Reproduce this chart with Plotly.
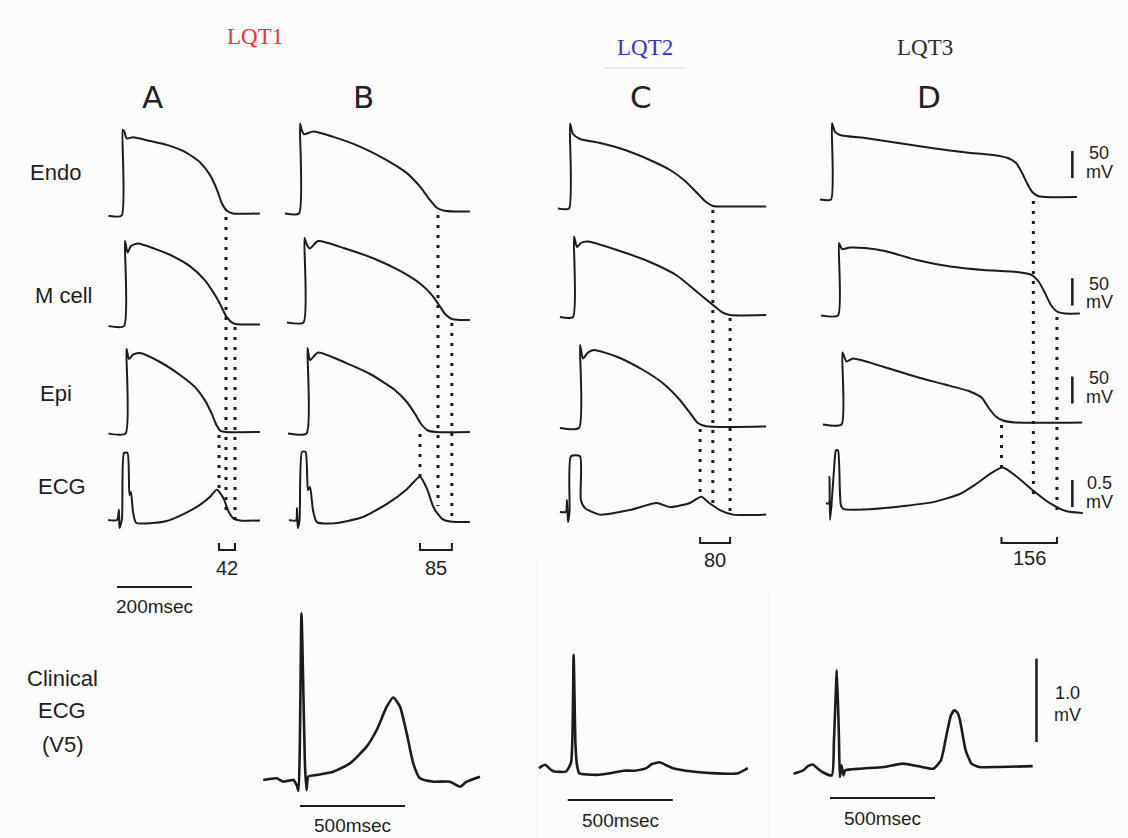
import plotly.graph_objects as go

# ------------------------------------------------------------------
# DATA  (time in ms from endocardial upstroke of each column, potentials in mV,
#        ECG in mV; clinical ECG time from R peak)
# ------------------------------------------------------------------
ENDO_A_T = [-38, -3, 0, 3.5, 10.7, 28, 73, 118, 166, 206, 233, 252, 265, 278, 294, 366]
ENDO_A_V = [-89, -89, 70, 68, 54, 56, 49, 42, 29, 10, -14, -42, -67, -80, -85, -85]
MCELL_A_T = [-38, 3.5, 6, 13, 22, 41, 86, 126, 179, 219, 243, 259, 277, 295, 313, 366]
MCELL_A_V = [-88, -88, 70, 48, 60, 65, 55, 44, 23, -3, -27, -46, -71, -83, -85, -85]
EPI_A_T = [-38, 7.5, 10, 17, 27.5, 46, 99.5, 153, 193, 219, 238, 250, 261, 275, 366]
EPI_A_V = [-88, -88, 69, 50, 58, 61, 44.5, 20.5, -2, -26, -52, -72, -83, -85, -85]
ECG_A_T = [-39, -15, -10, -8.5, -2, 3.5, 12.8, 18, 22, 27.5, 35.5, 73, 117, 162, 206, 233, 251, 268, 283, 297, 313, 366]
ECG_A_V = [0, 0, 0.19, -0.15, 0.02, 1.24, 1.24, 0.46, 0.52, 0.15, -0.05, -0.06, -0.02, 0.11, 0.28, 0.43, 0.56, 0.41, 0.15, 0.02, -0.01, -0.01]

ENDO_B_T = [-40, -2.7, 0, 5.3, 10.7, 35.5, 89, 160, 231, 285, 320, 347, 365, 382, 413, 453]
ENDO_B_V = [-88.7, -88.7, 78, 64, 58, 63, 53, 35, 10, -14, -39, -64, -78, -83, -85, -85]
MCELL_B_T = [-35, 9.3, 12, 18.7, 26.7, 48, 120, 200, 267, 320, 352, 371, 387, 405, 427, 453]
MCELL_B_V = [-89.6, -89.6, 66.7, 53.8, 47.3, 61.2, 47.3, 27.9, 5.7, -17.5, -38.8, -57.3, -73.9, -83.2, -85, -85]
EPI_B_T = [-32, 17.3, 20, 26.7, 48, 125, 187, 253, 285, 307, 323, 341, 363, 453]
EPI_B_V = [-87.8, -87.8, 70.4, 48.2, 62.1, 42.1, 22.3, -7.3, -29.5, -51.7, -70.2, -82.2, -85, -85]
ECG_B_T = [-29, -10.7, -8, -6, -1.3, 5.3, 14.7, 21.3, 26.7, 34.7, 45, 93, 168, 235, 285, 320, 339, 357, 379, 400, 453]
ECG_B_V = [0.01, 0, 0.23, -0.14, 0, 1.27, 1.27, 0.56, 0.62, 0.19, -0.03, -0.05, 0.065, 0.32, 0.58, 0.81, 0.58, 0.23, 0.03, -0.02, -0.03]

ENDO_C_T = [-32, -2.7, 0, 8, 26.7, 80, 147, 213, 267, 307, 339, 363, 381, 413, 523]
ENDO_C_V = [-88.7, -88.7, 68.6, 49.1, 39.9, 32.5, 19.5, 1, -17.5, -37.8, -60, -76.7, -84, -85, -85]
MCELL_C_T = [-27, 8, 10.7, 18.7, 29, 48, 125, 213, 285, 339, 381, 405, 427, 523]
MCELL_C_V = [-88.7, -88.7, 60.2, 40.8, 48.2, 51, 35.3, 13.1, -11.9, -42.5, -66.5, -79.5, -85, -85]
EPI_C_T = [-27, 24, 26.7, 34.7, 48, 64, 125, 195, 248, 293, 320, 341, 363, 523]
EPI_C_V = [-87.8, -87.8, 65.8, 40.8, 51.9, 56.5, 44.1, 19.5, -5.1, -36, -60, -78.5, -84.6, -85]
ECG_C_T = [-27, -11, -8, -5.3, -1.3, 2.7, 26.7, 29, 40, 80, 160, 231, 267, 320, 350, 373, 400, 435, 523]
ECG_C_V = [0.02, 0.02, 0.24, -0.17, 0.02, 1.05, 1.05, 0.24, 0.09, -0.03, 0.055, 0.185, 0.11, 0.185, 0.3, 0.175, 0.055, -0.03, -0.03]

ENDO_D_T = [-32, -2.7, 0, 8, 21.3, 92.5, 181, 270, 359, 430, 469, 491, 507, 520, 533, 549, 568, 653]
ENDO_D_V = [-89.6, -89.6, 51.3, 35.3, 29.7, 23.6, 14.3, 5.1, -2.7, -7.3, -12.9, -22.1, -40.6, -59.1, -74.8, -83.2, -85, -85]
MCELL_D_T = [-29, 16, 18.7, 26.7, 48, 88, 141, 226, 315, 404, 493, 533, 552, 568, 584, 600, 621, 661]
MCELL_D_V = [-88.7, -88.7, 45.4, 34.3, 37.1, 36.2, 30.6, 14, 2, -4.5, -8.2, -13.8, -26.7, -47.1, -69.3, -81.3, -85, -85]
EPI_D_T = [-24, 25.3, 28, 38.7, 56, 137, 226, 301, 368, 400, 418, 437, 456, 488, 667]
EPI_D_V = [-88.7, -88.7, 44.5, 27.9, 33.4, 18.2, -0.8, -14.7, -27.7, -39.7, -58.2, -73.9, -81.3, -85, -85]
ECG_D_T = [-16, -8, -6.7, -5.3, -1.3, 5.3, 10.7, 16, 24, 32, 101, 181, 269, 341, 381, 421, 455, 493, 537, 581, 626, 669]
ECG_D_V = [0.07, 0.07, 0.56, -0.24, 0.04, 0.69, 1.05, 1.05, 0.02, -0.04, -0.04, 0.01, 0.09, 0.24, 0.41, 0.61, 0.73, 0.56, 0.3, 0.07, -0.08, -0.11]

CLIN_B_T = [-175, -111, -79, -32, -16, -7, 7, 24, 31, 39.5, 79.5, 158, 238, 317, 365, 413, 444, 476, 508, 539, 571, 635, 714, 762, 793, 857]
CLIN_B_V = [0, 0.02, -0.02, 0, -0.06, -0.13, 2.0, 0.16, -0.12, 0.04, 0.06, 0.1, 0.2, 0.4, 0.6, 0.88, 0.99, 0.88, 0.56, 0.2, 0.02, -0.02, -0.02, -0.08, -0.02, 0.04]
CLIN_C_T = [-165, -136, -108, -91, -36, -12, 0, 9, 16, 27, 109, 173, 237, 291, 346, 373, 410, 445, 473, 565, 656, 783, 829]
CLIN_C_V = [0.04, 0.08, 0.02, 0, 0, 0.11, 1.4, 0.32, 0.08, -0.02, -0.04, -0.02, 0.01, 0.01, 0.04, 0.09, 0.11, 0.07, 0.04, 0, -0.02, -0.02, 0.04]
CLIN_D_T = [-206, -160, -138, -115, -95, -69.5, -24, -14, 0, 10, 14, 22, 31, 40, 110, 222, 313, 404, 459, 495, 523, 543, 559, 574, 586, 613, 641, 677, 776, 932]
CLIN_D_V = [-0.08, -0.04, 0.01, 0.03, -0.01, -0.06, -0.1, 0.32, 1.16, 0.32, -0.12, 0.02, -0.1, -0.04, -0.02, 0, 0.04, 0, -0.02, 0.08, 0.4, 0.62, 0.68, 0.65, 0.56, 0.2, 0.04, 0, 0, 0.01]

# end of repolarisation (ms): Endo, M cell, Epi  (dotted lines)
REPOL_END_A = [275.5, 299.5, 257]
REPOL_END_B = [368, 405, 320]
REPOL_END_C = [381, 427, 347]
REPOL_END_D = [537, 600, 452]
# transmural dispersion labels (ms)
DISPERSION = ['42', '85', '80', '156']
COLUMN_LETTERS = ['A', 'B', 'C', 'D']
ROW_LABELS = ['Endo', 'M cell', 'Epi', 'ECG']

# ------------------------------------------------------------------
# LAYOUT / CALIBRATION
# ------------------------------------------------------------------
W, H = 1128, 838
INK = '#1b1b1b'
TXT = '#1e1e1e'
SANS = 'Liberation Sans, Arial, sans-serif'
MS_PER_PX = 2.667          # 200 ms bar = 75 px
AP_MV_PER_PX = 1.85        # 50 mV bar = 27 px
ECG_MV_PER_PX = 0.0185     # 0.5 mV bar = 27 px
CLIN_MS_PER_PX = 4.76      # 500 ms bar = 105 px
CLIN_MV_PER_PX = 0.012     # 1.0 mV bar = 84 px
REST = -85.0

COL_T0_PX = {'A': 122.7, 'B': 300, 'C': 570, 'D': 832}
COL_BOX = {'A': (98, 268), 'B': (278, 478), 'C': (545, 778), 'D': (805, 1100)}
BASE_PY = {
    'Endo': {'A': 213.5, 'B': 211.5, 'C': 206.5, 'D': 197},
    'M cell': {'A': 324.5, 'B': 320, 'C': 315, 'D': 313.5},
    'Epi': {'A': 432, 'B': 432, 'C': 426.5, 'D': 422.5},
    'ECG': {'A': 520, 'B': 520.5, 'C': 513, 'D': 507},
}
SERIES = {
    ('Endo', 'A'): (ENDO_A_T, ENDO_A_V), ('M cell', 'A'): (MCELL_A_T, MCELL_A_V),
    ('Epi', 'A'): (EPI_A_T, EPI_A_V), ('ECG', 'A'): (ECG_A_T, ECG_A_V),
    ('Endo', 'B'): (ENDO_B_T, ENDO_B_V), ('M cell', 'B'): (MCELL_B_T, MCELL_B_V),
    ('Epi', 'B'): (EPI_B_T, EPI_B_V), ('ECG', 'B'): (ECG_B_T, ECG_B_V),
    ('Endo', 'C'): (ENDO_C_T, ENDO_C_V), ('M cell', 'C'): (MCELL_C_T, MCELL_C_V),
    ('Epi', 'C'): (EPI_C_T, EPI_C_V), ('ECG', 'C'): (ECG_C_T, ECG_C_V),
    ('Endo', 'D'): (ENDO_D_T, ENDO_D_V), ('M cell', 'D'): (MCELL_D_T, MCELL_D_V),
    ('Epi', 'D'): (EPI_D_T, EPI_D_V), ('ECG', 'D'): (ECG_D_T, ECG_D_V),
}
REPOL = {'A': REPOL_END_A, 'B': REPOL_END_B, 'C': REPOL_END_C, 'D': REPOL_END_D}
# dotted line vertical extents (px): Endo, M, Epi
DOT_SPAN = {
    'A': [(217, 512), (327, 520), (435, 489)],
    'B': [(215, 506), (323, 521), (434, 478)],
    'C': [(210, 507), (318, 514), (429, 496)],
    'D': [(201, 500), (317, 511), (425, 467)],
}
BRACKET_PY = {'A': (543, 550, 568), 'B': (543, 550, 568), 'C': (537, 543, 560), 'D': (537, 543, 558)}

CLIN = {
    'B': dict(series=(CLIN_B_T, CLIN_B_V), t0=300, base=780, box=(250, 495, 590, 815), bar=(0, 806, 825)),
    'C': dict(series=(CLIN_C_T, CLIN_C_V), t0=573.6, base=771.5, box=(528, 765, 630, 815), bar=(-28, 800, 820)),
    'D': dict(series=(CLIN_D_T, CLIN_D_V), t0=836.9, base=767, box=(782, 1100, 640, 815), bar=(-33, 798, 818)),
}


def axname(kind, n):
    return f'{kind}axis' if n == 1 else f'{kind}axis{n}'


def ref(kind, n):
    return kind if n == 1 else f'{kind}{n}'


def py2p(py):
    return 1 - py / H


fig = go.Figure()
axes = {}
shapes = []
annotations = []


def label(s, x, py, size, color=TXT, family=SANS, xref='paper'):
    annotations.append(dict(text=s, x=x, y=py2p(py), xref=xref, yref='paper',
                            showarrow=False, xanchor='center', yanchor='middle',
                            font=dict(size=size, color=color, family=family)))


def text(s, px, py, size, color=TXT, family=SANS):
    label(s, px / W, py, size, color, family)


line_style = dict(color=INK, width=2, shape='spline', smoothing=0.6)

for ci, c in enumerate(COLUMN_LETTERS):
    xn = ci + 1
    l, r = COL_BOX[c]
    t0 = COL_T0_PX[c]
    axes[axname('x', xn)] = dict(domain=[l / W, r / W], range=[(l - t0) * MS_PER_PX, (r - t0) * MS_PER_PX],
                                 visible=False, anchor=ref('y', 1 + ci), fixedrange=True)
    for ri, row in enumerate(ROW_LABELS):
        yn = 1 + ri * 4 + ci
        base = BASE_PY[row][c]
        if row == 'ECG':
            top, bot, scale, refv = base - 80, base + 22, ECG_MV_PER_PX, 0.0
        else:
            top, bot, scale, refv = base - 100, base + 14, AP_MV_PER_PX, REST
        axes[axname('y', yn)] = dict(domain=[py2p(bot), py2p(top)],
                                     range=[refv + (base - bot) * scale, refv + (base - top) * scale],
                                     visible=False, anchor=ref('x', xn), fixedrange=True)
        t, v = SERIES[(row, c)]
        fig.add_trace(go.Scatter(x=t, y=v, xaxis=ref('x', xn), yaxis=ref('y', yn), mode='lines',
                                 line=line_style, hoverinfo='skip', showlegend=False))
    # dotted repolarisation lines
    for tt, (p0, p1) in zip(REPOL[c], DOT_SPAN[c]):
        shapes.append(dict(type='line', xref=ref('x', xn), yref='paper', x0=tt, x1=tt,
                           y0=py2p(p0), y1=py2p(p1), line=dict(color=INK, width=3, dash='3px,7px')))
    # dispersion bracket (Epi end -> M cell end)
    ta, tb = REPOL[c][2], REPOL[c][1]
    ytop, ybot, ytxt = BRACKET_PY[c]
    shapes.append(dict(type='path', xref=ref('x', xn), yref='paper',
                       path=f'M {ta},{py2p(ytop)} L {ta},{py2p(ybot)} L {tb},{py2p(ybot)} L {tb},{py2p(ytop)}',
                       line=dict(color=INK, width=2)))
    label(DISPERSION[ci], (ta + tb) / 2, ytxt, 20, xref=ref('x', xn))

# 200 msec bar (column A time axis)
shapes.append(dict(type='line', xref='x', yref='paper', x0=-15, x1=185, y0=py2p(587), y1=py2p(587),
                   line=dict(color=INK, width=2)))
label('200msec', 85, 606, 19, xref='x')

# amplitude bars on column D
for ri, (v0, v1) in enumerate([(-50, 0), (-70, -20), (-50, 0), (0, 0.5)]):
    yn = 1 + ri * 4 + 3
    shapes.append(dict(type='line', xref='x4', yref=ref('y', yn), x0=641, x1=641, y0=v0, y1=v1,
                       line=dict(color=INK, width=2.5)))
label_py = [(153, 172), (284, 302), (378, 397), (483, 502)]
for (pa, pb), lab in zip(label_py, ['50', '50', '50', '0.5']):
    text(lab, 1099, pa, 18)
    text('mV', 1099, pb, 18)

# clinical ECGs
for k, (c, cfg) in enumerate(CLIN.items()):
    xn, yn = 5 + k, 17 + k
    l, r, top, bot = cfg['box']
    axes[axname('x', xn)] = dict(domain=[l / W, r / W],
                                 range=[(l - cfg['t0']) * CLIN_MS_PER_PX, (r - cfg['t0']) * CLIN_MS_PER_PX],
                                 visible=False, anchor=ref('y', yn), fixedrange=True)
    axes[axname('y', yn)] = dict(domain=[py2p(bot), py2p(top)],
                                 range=[(cfg['base'] - bot) * CLIN_MV_PER_PX, (cfg['base'] - top) * CLIN_MV_PER_PX],
                                 visible=False, anchor=ref('x', xn), fixedrange=True)
    t, v = cfg['series']
    fig.add_trace(go.Scatter(x=t, y=v, xaxis=ref('x', xn), yaxis=ref('y', yn), mode='lines',
                             line=dict(color=INK, width=2.6, shape='spline', smoothing=0.5),
                             hoverinfo='skip', showlegend=False))
    bx, bpy, tpy = cfg['bar']
    shapes.append(dict(type='line', xref=ref('x', xn), yref='paper', x0=bx, x1=bx + 500,
                       y0=py2p(bpy), y1=py2p(bpy), line=dict(color=INK, width=2)))
    label('500msec', bx + 250, tpy, 19, xref=ref('x', xn))

# 1.0 mV clinical bar
shapes.append(dict(type='line', xref='x7', yref='y19', x0=950, x1=950, y0=0.3, y1=1.3,
                   line=dict(color=INK, width=2.5)))
text('1.0', 1067, 693, 18)
text('mV', 1067, 715, 18)

# faint scan artefacts
shapes.append(dict(type='line', xref='paper', yref='paper', x0=604 / W, x1=685 / W, y0=py2p(68), y1=py2p(68),
                   line=dict(color='#e8e8ef', width=2)))
shapes.append(dict(type='line', xref='paper', yref='paper', x0=537 / W, x1=537 / W, y0=py2p(560), y1=0,
                   line=dict(color='#efefef', width=1)))
shapes.append(dict(type='line', xref='paper', yref='paper', x0=769 / W, x1=769 / W, y0=py2p(590), y1=0,
                   line=dict(color='#efefef', width=1)))

# headings
text('LQT1', 255, 37, 23, color='#ec3232', family='Liberation Serif, Times New Roman, serif')
text('LQT2', 645, 47, 23, color='#3434cc', family='Liberation Serif, Times New Roman, serif')
text('LQT3', 925, 47, 23, color='#2a2a2a', family='Liberation Serif, Times New Roman, serif')
for lab, px in zip(COLUMN_LETTERS, [152, 363, 641, 929]):
    text(lab, px, 97, 31, color='#222222', family='DejaVu Sans, sans-serif')
for lab, (px, py) in zip(ROW_LABELS, [(55, 172), (63, 295), (56, 393), (62, 486)]):
    text(lab, px, py, 22)
text('Clinical', 62, 678, 22)
text('ECG', 62, 710, 22)
text('(V5)', 63, 744, 22)

fig.update_layout(width=W, height=H, margin=dict(l=0, r=0, t=0, b=0),
                  paper_bgcolor='#fcfcfc', plot_bgcolor='rgba(0,0,0,0)',
                  shapes=shapes, annotations=annotations, showlegend=False, **axes)

fig.write_html('out.html', config={'displayModeBar': False, 'staticPlot': True},
               post_script="document.body.style.margin='0';document.body.style.overflow='hidden';")
